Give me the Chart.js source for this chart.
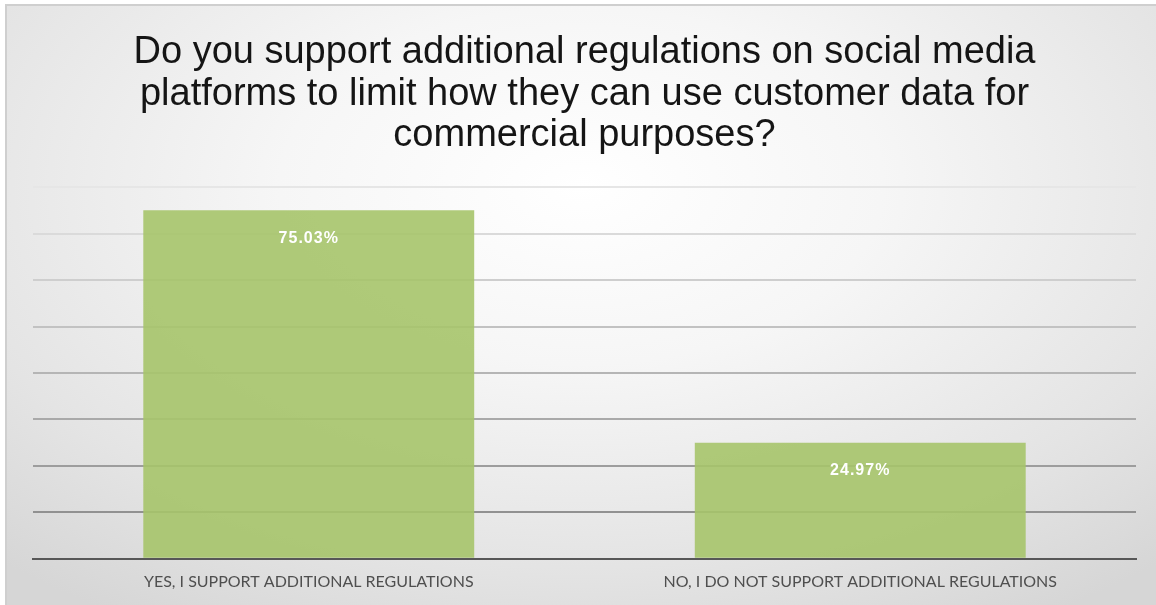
<!DOCTYPE html>
<html>
<head>
<meta charset="utf-8">
<script src="https://cdn.jsdelivr.net/npm/chart.js@4"></script>
<style>
  html, body { margin: 0; padding: 0; background: #fff; }
  #bg {
    position: absolute; left: 5px; top: 4px; width: 1151px; height: 601px;
    border-top: 2px solid #cfcfcf; border-left: 2px solid #cfcfcf;
    box-sizing: border-box;
    background: radial-gradient(ellipse 75% 85% at 50% 30%, #ffffff 0%, #f6f6f6 35%, #e4e4e4 75%, #d6d6d6 100%);
  }
  #wrap { position: absolute; left: 0; top: 0; width: 1156px; height: 605px; }
</style>
</head>
<body>
<div id="bg"></div>
<div id="wrap"><canvas id="surveyChart"></canvas></div>
<script>
const titleLines = [
  'Do you support additional regulations on social media',
  'platforms to limit how they can use customer data for',
  'commercial purposes?'
];
const categories = ['YES, I SUPPORT ADDITIONAL REGULATIONS', 'NO, I DO NOT SUPPORT ADDITIONAL REGULATIONS'];
const percentValues = [75.03, 24.97];

// draws the % labels inside the bars, near the top
const barLabels = {
  id: 'barLabels',
  afterDatasetsDraw(chart) {
    const ctx = chart.ctx;
    const meta = chart.getDatasetMeta(0);
    ctx.save();
    ctx.fillStyle = '#ffffff';
    ctx.font = 'bold 16px "Liberation Sans", Arial, sans-serif';
    ctx.letterSpacing = '1px';
    ctx.textAlign = 'center';
    ctx.textBaseline = 'middle';
    meta.data.forEach((bar, i) => {
      ctx.fillText(percentValues[i].toFixed(2) + '%', bar.x, bar.y + 28);
    });
    ctx.restore();
  }
};

new Chart(document.getElementById('surveyChart').getContext('2d'), {
  type: 'bar',
  data: {
    labels: categories,
    datasets: [{
      data: percentValues,
      backgroundColor: 'rgba(166,196,106,0.9)',
      borderWidth: 0,
      barPercentage: 0.6,
      categoryPercentage: 1.0
    }]
  },
  options: {
    responsive: true,
    maintainAspectRatio: false,
    animation: false,
    layout: { padding: { left: 33, right: 20, top: 0, bottom: 1 } },
    scales: {
      x: {
        grid: { display: false, drawTicks: false },
        border: { display: true, color: '#575757', width: 2 },
        ticks: {
          padding: 13,
          color: '#4f4f4f',
          font: { family: 'Lato, "Open Sans", sans-serif', size: 16 }
        }
      },
      y: {
        min: 0,
        max: 80,
        ticks: { display: false, stepSize: 10 },
        border: { display: false },
        grid: {
          drawTicks: false,
          lineWidth: 2,
          color: (c) => {
            const v = c.tick ? c.tick.value : 0;
            if (v === 0) return 'rgba(0,0,0,0)';
            const g = Math.round(145 + (v - 10) / 70 * 85);
            return 'rgb(' + g + ',' + g + ',' + g + ')';
          }
        }
      }
    },
    plugins: {
      legend: { display: false },
      tooltip: { enabled: false },
      title: {
        display: true,
        text: titleLines,
        color: '#151515',
        font: { family: '"Liberation Sans", Arial, sans-serif', size: 38, weight: 'normal', lineHeight: 1.09 },
        padding: { top: 32, bottom: 31 }
      }
    }
  },
  plugins: [barLabels]
});
</script>
</body>
</html>
